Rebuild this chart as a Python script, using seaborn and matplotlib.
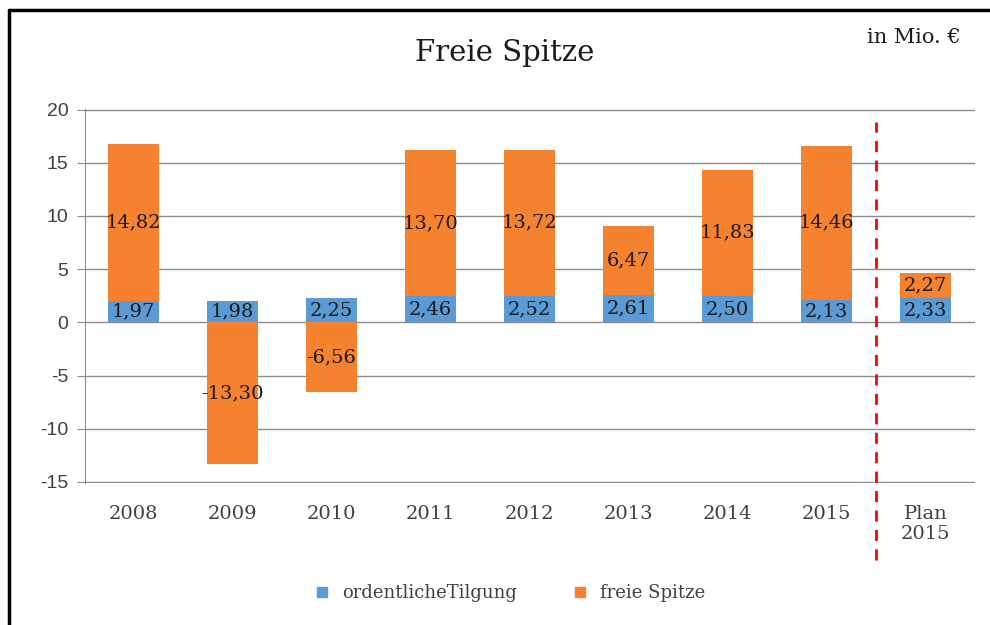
import numpy as np
import pandas as pd
import matplotlib.pyplot as plt
import seaborn as sns
from matplotlib.lines import Line2D

# data
jahre = ["2008", "2009", "2010", "2011", "2012", "2013", "2014", "2015", "Plan\n2015"]
tilgung = [1.97, 1.98, 2.25, 2.46, 2.52, 2.61, 2.50, 2.13, 2.33]
freie_spitze = [14.82, -13.30, -6.56, 13.70, 13.72, 6.47, 11.83, 14.46, 2.27]

blau = "#5b9bd5"
orange = "#f5822f"

df = pd.DataFrame({"Jahr": jahre, "Tilgung": tilgung, "Spitze": freie_spitze})
# positive freie Spitze sits on top of the Tilgung, negative hangs below zero
df["Spitze_top"] = np.where(df["Spitze"] > 0, df["Tilgung"] + df["Spitze"], df["Spitze"])

sns.set_style("white")
plt.rcParams["font.family"] = ["DejaVu Serif"]
plt.rcParams["axes.unicode_minus"] = False

fig = plt.figure(figsize=(9.9, 6.25), dpi=100)
ax = fig.add_axes([0.0859, 0.2272, 0.899, 0.5984])

sns.barplot(data=df, x="Jahr", y="Spitze_top", color=orange, width=0.52,
            saturation=1, linewidth=0, edgecolor="none", ax=ax, zorder=3)
sns.barplot(data=df, x="Jahr", y="Tilgung", color=blau, width=0.52,
            saturation=1, linewidth=0, edgecolor="none", ax=ax, zorder=3)

ax.set_ylim(-15.1, 20.05)
ax.set_xlim(-0.49, 8.5)
ax.set_yticks(range(-15, 21, 5))
ax.yaxis.grid(True, color="#8c8c8c", lw=1)
ax.set_axisbelow(True)
for s in ["top", "right", "bottom"]:
    ax.spines[s].set_visible(False)
ax.spines["left"].set_color("#8c8c8c")
ax.tick_params(axis="y", left=True, length=6, color="#8c8c8c", labelsize=14,
               labelcolor="#404040", pad=6)
ax.tick_params(axis="x", bottom=False, labelsize=14, labelcolor="#404040", pad=12)
for t in ax.get_yticklabels():
    t.set_family("Liberation Sans")
ax.set_xlabel("")
ax.set_ylabel("")

def fmt(v):
    return f"{v:.2f}".replace(".", ",")

for i in range(len(jahre)):
    t = tilgung[i]
    s = freie_spitze[i]
    ax.text(i, t / 2, fmt(t), ha="center", va="center", fontsize=14,
            color="#1a1a1a", zorder=5)
    mid = t + s / 2 if s > 0 else s / 2
    ax.text(i, mid, fmt(s), ha="center", va="center", fontsize=14,
            color="#1a1a1a", zorder=5)

# dashed separator between actuals and plan
ax.axvline(7.5, ymin=-0.206, ymax=0.965, color="#ff0000", ls=(0, (4, 3)),
           lw=2, clip_on=False, zorder=4)

fig.text(0.51, 0.915, "Freie Spitze", ha="center", va="center", fontsize=21,
         color="#1a1a1a")
fig.text(0.876, 0.94, "in Mio. €", ha="left", va="center", fontsize=15,
         color="#1a1a1a")

handles = [
    Line2D([], [], marker="s", ls="", color=blau, markersize=7, label="ordentlicheTilgung"),
    Line2D([], [], marker="s", ls="", color=orange, markersize=7, label="freie Spitze"),
]
fig.legend(handles=handles, loc="center", bbox_to_anchor=(0.51, 0.051), ncol=2,
           frameon=False, fontsize=13, handletextpad=0.1, columnspacing=2.5,
           labelcolor="#404040")

# black frame lines top and left
fig.add_artist(Line2D([0.009, 1.0], [0.984, 0.984], color="black", lw=2.5,
                      transform=fig.transFigure))
fig.add_artist(Line2D([0.009, 0.009], [0.0, 0.984], color="black", lw=2.5,
                      transform=fig.transFigure))

fig.savefig("out.png", dpi=100)
